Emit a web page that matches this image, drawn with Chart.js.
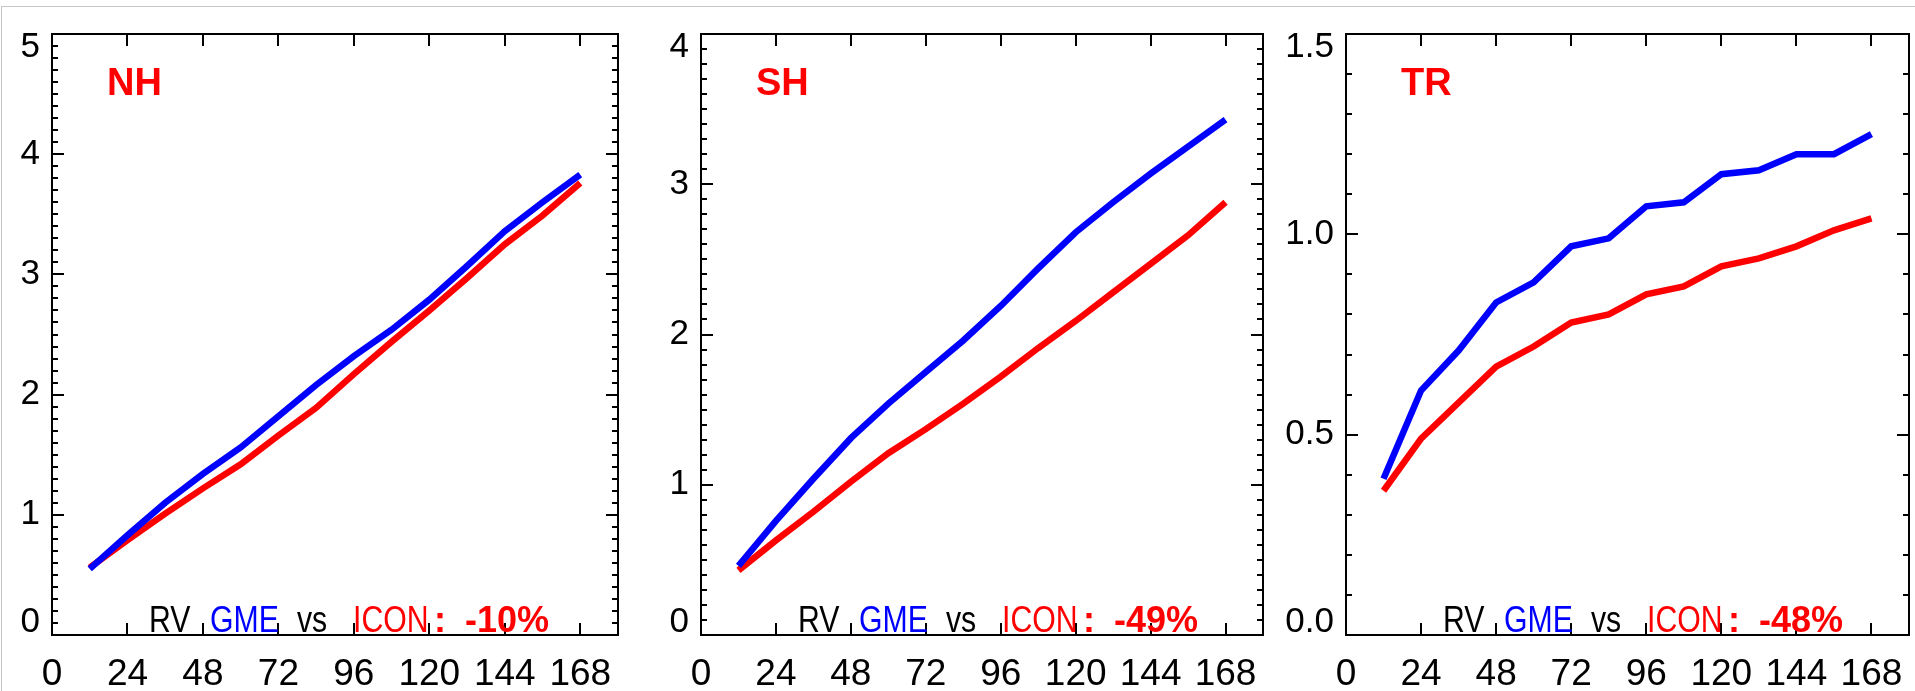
<!DOCTYPE html>
<html>
<head>
<meta charset="utf-8">
<title>RV GME vs ICON</title>
<script src="https://cdn.jsdelivr.net/npm/chart.js@4.4.1/dist/chart.umd.min.js"></script>
<style>
  html, body { margin: 0; padding: 0; background: #fff; overflow: hidden; }
  body { width: 1915px; height: 691px; position: relative; }
  #frame { position: absolute; left: 1px; top: 6px; right: 0; bottom: 0;
           border-top: 1px solid #c6c6c6; border-left: 1px solid #c6c6c6; }
  .panel { position: absolute; top: 0; height: 691px; }
</style>
</head>
<body>
<div id="frame"></div>
<div class="panel" id="p0"><canvas id="c0"></canvas></div>
<div class="panel" id="p1"><canvas id="c1"></canvas></div>
<div class="panel" id="p2"><canvas id="c2"></canvas></div>

<script>
// forecast lead time (h)
const hours = [12, 24, 36, 48, 60, 72, 84, 96, 108, 120, 132, 144, 156, 168];
const xTicks = [0, 24, 48, 72, 96, 120, 144, 168];

// RV error, GME (blue) and ICON (red)
const nhGME  = [0.55, 0.83, 1.10, 1.34, 1.56, 1.82, 2.08, 2.32, 2.54, 2.79, 3.07, 3.36, 3.60, 3.83];
const nhICON = [0.56, 0.79, 1.01, 1.22, 1.42, 1.66, 1.89, 2.17, 2.44, 2.70, 2.97, 3.25, 3.49, 3.76];
const shGME  = [0.46, 0.76, 1.04, 1.31, 1.54, 1.75, 1.96, 2.19, 2.44, 2.68, 2.88, 3.07, 3.25, 3.43];
const shICON = [0.43, 0.63, 0.82, 1.02, 1.21, 1.37, 1.54, 1.72, 1.91, 2.09, 2.28, 2.47, 2.66, 2.88];
const trGME  = [0.39, 0.61, 0.71, 0.83, 0.88, 0.97, 0.99, 1.07, 1.08, 1.15, 1.16, 1.20, 1.20, 1.25];
const trICON = [0.36, 0.49, 0.58, 0.67, 0.72, 0.78, 0.80, 0.85, 0.87, 0.92, 0.94, 0.97, 1.01, 1.04];

const regions = ["NH", "SH", "TR"];
const changes = ["-10%", "-49%", "-48%"];
const gmeSeries = [nhGME, shGME, trGME];
const iconSeries = [nhICON, shICON, trICON];
const yMaxes = [5, 4, 1.5];
const yLabelSteps = [1, 1, 0.5];
const yDigits = [0, 0, 1];

// panel geometry
const plotLeft = [52, 701, 1346];
const plotRight = [618, 1263, 1909];
const axisWidth = [52, 80, 80];
const plotTop = 34, plotBottom = 635, pageH = 691;

const tickFont = "Liberation Sans";

const panelDecor = {
    id: "panelDecor",
    afterDraw(chart, args, opts) {
        const ctx = chart.ctx;
        const a = chart.chartArea;
        const xs = chart.scales.x, ys = chart.scales.y;
        ctx.save();
        ctx.strokeStyle = "#000";
        ctx.lineWidth = 2;
        ctx.strokeRect(a.left, a.top, a.right - a.left, a.bottom - a.top);

        // inward ticks on all four sides
        ctx.beginPath();
        xTicks.forEach(v => {
            if (v <= 0) return;
            const px = Math.round(xs.getPixelForValue(v));
            ctx.moveTo(px, a.bottom); ctx.lineTo(px, a.bottom - 12);
            ctx.moveTo(px, a.top); ctx.lineTo(px, a.top + 12);
        });
        const n = Math.round(ys.max / 0.1);
        for (let k = 1; k < n; k++) {
            const v = k * 0.1;
            const py = Math.round(ys.getPixelForValue(v));
            const r = v / opts.step;
            const len = Math.abs(r - Math.round(r)) < 1e-6 ? 12 : 6;
            ctx.moveTo(a.left, py); ctx.lineTo(a.left + len, py);
            ctx.moveTo(a.right, py); ctx.lineTo(a.right - len, py);
        }
        ctx.stroke();

        // region name
        ctx.fillStyle = "#ff0000";
        ctx.textBaseline = "alphabetic";
        ctx.font = "bold 38px 'Liberation Sans'";
        ctx.fillText(opts.region, a.left + 55, 95);

        // comparison note along the bottom
        const base = a.bottom - 3;
        const parts = [
            { t: "RV", c: "#000000", dx: 97, bold: false },
            { t: "GME", c: "#0000ff", dx: 158, bold: false },
            { t: "vs", c: "#000000", dx: 245, bold: false },
            { t: "ICON", c: "#ff0000", dx: 301, bold: false },
            { t: ":", c: "#ff0000", dx: 382, bold: true },
            { t: opts.change, c: "#ff0000", dx: 413, bold: true }
        ];
        parts.forEach(p => {
            ctx.save();
            ctx.fillStyle = p.c;
            ctx.translate(a.left + p.dx, base);
            if (p.bold) {
                ctx.font = "bold 36px 'Liberation Sans'";
            } else {
                ctx.font = "36px 'Liberation Sans'";
                ctx.scale(0.84, 1);
            }
            ctx.fillText(p.t, 0, 0);
            ctx.restore();
        });
        ctx.restore();
    }
};

function makePanel(i) {
    const box = document.getElementById("p" + i);
    const left = plotLeft[i] - axisWidth[i];
    const width = axisWidth[i] + (plotRight[i] - plotLeft[i]) + 6;
    box.style.left = left + "px";
    box.style.width = width + "px";

    const labelValues = [];
    for (let v = 0; v <= yMaxes[i] + 1e-9; v += yLabelSteps[i]) labelValues.push(v);

    new Chart(document.getElementById("c" + i), {
        type: "line",
        data: {
            datasets: [
                {
                    label: "GME",
                    data: hours.map((h, k) => ({ x: h, y: gmeSeries[i][k] })),
                    borderColor: "#0000ff",
                    borderWidth: 6.5,
                    pointRadius: 0,
                    tension: 0
                },
                {
                    label: "ICON",
                    data: hours.map((h, k) => ({ x: h, y: iconSeries[i][k] })),
                    borderColor: "#ff0000",
                    borderWidth: 6.5,
                    pointRadius: 0,
                    tension: 0
                }
            ]
        },
        options: {
            responsive: true,
            maintainAspectRatio: false,
            animation: false,
            events: [],
            layout: { padding: { top: plotTop, right: 6, left: 0, bottom: 0 } },
            plugins: {
                legend: { display: false },
                tooltip: { enabled: false },
                panelDecor: { region: regions[i], change: changes[i], step: yLabelSteps[i] }
            },
            scales: {
                x: {
                    type: "linear",
                    min: 0,
                    max: 180,
                    afterBuildTicks: s => { s.ticks = xTicks.map(v => ({ value: v })); },
                    afterFit: s => { s.height = pageH - plotBottom; s.paddingLeft = 0; s.paddingRight = 0; },
                    grid: { display: false, drawTicks: false },
                    border: { display: false },
                    ticks: {
                        autoSkip: false,
                        maxRotation: 0,
                        includeBounds: false,
                        padding: 18,
                        color: "#000",
                        font: { family: tickFont, size: 37 },
                        callback: v => String(v)
                    }
                },
                y: {
                    type: "linear",
                    min: 0,
                    max: yMaxes[i],
                    afterBuildTicks: s => { s.ticks = labelValues.map(v => ({ value: v })); },
                    afterFit: s => { s.width = axisWidth[i]; s.paddingTop = 0; s.paddingBottom = 0; },
                    grid: { display: false, drawTicks: false },
                    border: { display: false },
                    ticks: {
                        autoSkip: false,
                        padding: 12,
                        color: "#000",
                        font: { family: tickFont, size: 35, lineHeight: "26px" },
                        callback: (v, idx, all) => {
                            const s = v.toFixed(yDigits[i]);
                            if (idx === all.length - 1) return ["", s];
                            if (idx === 0) return [s, ""];
                            return s;
                        }
                    }
                }
            }
        },
        plugins: [panelDecor]
    });
}

[0, 1, 2].forEach(makePanel);
</script>
</body>
</html>
